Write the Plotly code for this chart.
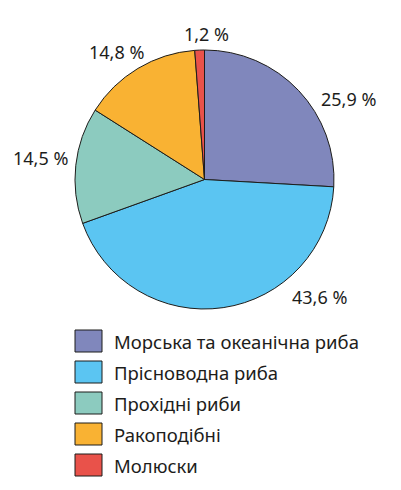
import plotly.graph_objects as go

categories = [
    "Морська та океанічна риба",
    "Прісноводна риба",
    "Прохідні риби",
    "Ракоподібні",
    "Молюски",
]
shares = [25.9, 43.6, 14.5, 14.8, 1.2]
colors = ["#8087bc", "#5bc5f2", "#8ccbbf", "#f9b233", "#e9524a"]

# where the percentage labels sit (pixel centres on the page)
label_pos = [(348, 99), (319, 297), (40, 158), (116, 52), (206, 34)]

labels_text = [f"{v:.1f} %".replace(".", ",") for v in shares]

W, H = 401, 490
OFF = 8  # default body margin of the html page


def px_x(x):
    return (x - OFF) / W


def px_y(y):
    return 1 - (y - OFF) / H


fig = go.Figure(
    go.Pie(
        labels=categories,
        values=shares,
        textinfo="none",
        sort=False,
        direction="clockwise",
        rotation=0,
        marker=dict(colors=colors, line=dict(color="#1d1d1b", width=1)),
        domain=dict(x=[px_x(75), px_x(334)], y=[px_y(309), px_y(50)]),
        showlegend=False,
        hovertext=labels_text,
        hoverinfo="label+text",
    )
)

for txt, (lx, ly) in zip(labels_text, label_pos):
    fig.add_annotation(
        text=txt, xref="paper", yref="paper",
        x=px_x(lx), y=px_y(ly), xanchor="center", yanchor="middle",
        showarrow=False, font=dict(size=18, color="#1d1d1b"),
    )

# manual legend: boxes + labels
row_y0 = 341
row_gap = 31
for i, (name, col) in enumerate(zip(categories, colors)):
    yc = row_y0 + i * row_gap
    fig.add_shape(
        type="rect", xref="paper", yref="paper",
        x0=px_x(75), x1=px_x(102),
        y0=px_y(yc + 11), y1=px_y(yc - 11),
        fillcolor=col, line=dict(color="#1d1d1b", width=1),
    )
    fig.add_annotation(
        text=name, xref="paper", yref="paper",
        x=px_x(112), y=px_y(yc), xanchor="left", yanchor="middle",
        showarrow=False, font=dict(size=18.5, color="#1d1d1b"),
    )

fig.update_layout(
    width=W, height=H,
    margin=dict(l=0, r=0, t=0, b=0),
    paper_bgcolor="white",
    font=dict(family="Noto Sans", color="#1d1d1b"),
)
fig.write_html("out.html")
